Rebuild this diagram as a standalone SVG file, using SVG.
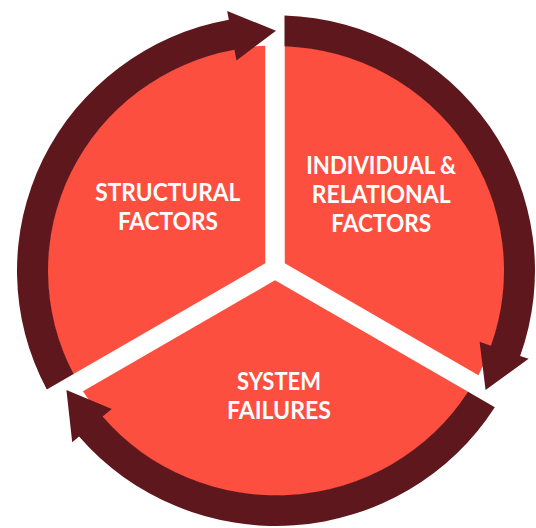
<svg xmlns="http://www.w3.org/2000/svg" width="536" height="528" viewBox="0 0 536 528">
  <style>
    .sector { fill: #FD4F3F; }
    .arrow { fill: #5E171C; }
    .label { fill: #FFFFFF; font-family: "Lato", "Open Sans", "Liberation Sans", sans-serif; font-weight: 700; font-size: 24px; text-anchor: middle; }
  </style>
  <rect width="536" height="528" fill="#FFFFFF"/>
  <g id="structural">
    <path class="sector" d="M 265.25 263.37 L 73.13 374.3 A 228.5 225.18 0 0 1 265.25 45.77 Z"/>
    <text class="label" x="167.8" y="201" textLength="145" lengthAdjust="spacingAndGlyphs">STRUCTURAL</text>
    <text class="label" x="167.9" y="230" textLength="100" lengthAdjust="spacingAndGlyphs">FACTORS</text>
  </g>
  <g id="individual">
    <path class="sector" d="M 284.75 263.37 L 284.75 45.68 A 228.5 225.18 0 0 1 478.43 375.2 Z"/>
    <text class="label" x="381.2" y="174" textLength="150" lengthAdjust="spacingAndGlyphs">INDIVIDUAL &amp;</text>
    <text class="label" x="381.2" y="203" textLength="139" lengthAdjust="spacingAndGlyphs">RELATIONAL</text>
    <text class="label" x="381.2" y="232" textLength="100" lengthAdjust="spacingAndGlyphs">FACTORS</text>
  </g>
  <g id="system">
    <path class="sector" d="M 275 280.26 L 468.53 392 A 228.5 225.18 0 0 1 82.94 391.15 Z"/>
    <text class="label" x="279" y="389.5" textLength="84" lengthAdjust="spacingAndGlyphs">SYSTEM</text>
    <text class="label" x="279" y="418.7" textLength="104" lengthAdjust="spacingAndGlyphs">FAILURES</text>
  </g>
  <g id="connectors" transform="translate(276 270.7) scale(1 0.9855)">
    <path id="arrow-structural-individual" class="arrow" d="M -229.2 120.6 A 259 259 0 0 1 -47.19 -254.67 L -48.83 -263.52 L 0 -243.5 L -39.54 -213.38 L -41.54 -224.19 A 228 228 0 0 0 -202.4 104.9 Z"/>
    <path id="arrow-individual-system" class="arrow" d="M 8.5 -258.86 A 259 259 0 0 1 244.13 86.45 L 252.62 89.46 L 209.58 121 L 203.6 72.1 L 214.91 76.11 A 228 228 0 0 0 8.5 -227.84 Z"/>
    <path id="arrow-system-structural" class="arrow" d="M 218.8 138.5 A 259 259 0 0 1 -196.94 168.19 L -203.79 174.04 L -209.58 121 L -164.25 140.27 L -173.37 148.06 A 228 228 0 0 0 192.07 122.8 Z"/>
  </g>
</svg>
